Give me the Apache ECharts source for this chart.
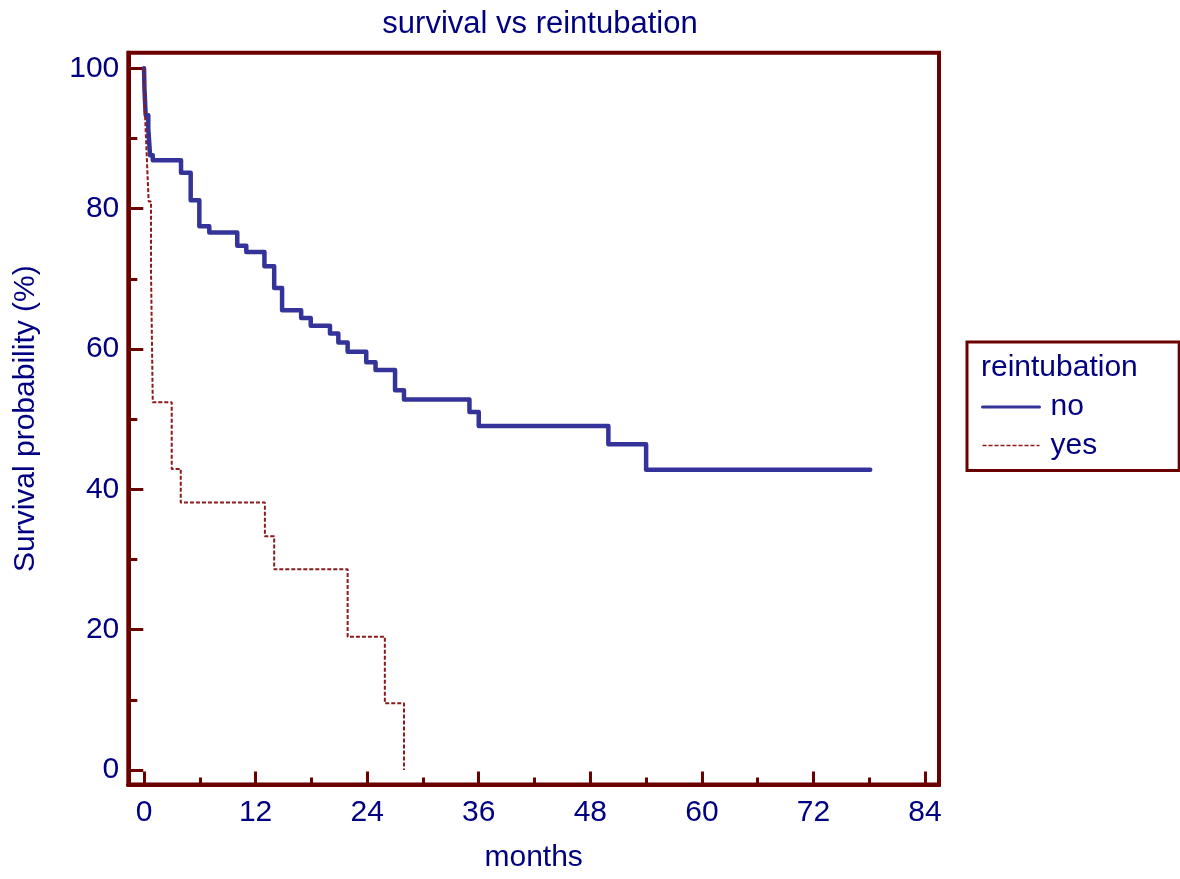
<!DOCTYPE html>
<html>
<head>
<meta charset="utf-8">
<script src="https://cdn.jsdelivr.net/npm/echarts@6/dist/echarts.min.js"></script>
<style>html,body{margin:0;padding:0;background:#fff;}#c{width:1180px;height:879px;}</style>
</head>
<body>
<div id="c"></div>
<script>
// Kaplan-Meier steps: [months, survival %]
const noTimes  = [0, 0.05, 0.18, 0.46, 0.65, 0.94, 3.98, 5.02, 5.95, 7.02, 10.03, 11.0, 12.95, 14.0, 14.85, 16.9, 17.93, 20.0, 20.9, 21.9, 23.9, 24.9, 27.0, 27.96, 35.0, 36.0, 49.94, 54.0, 78.1];
const noSurv   = [100, 97.0, 93.3, 91.4, 87.6, 86.9, 85.1, 81.2, 77.5, 76.6, 74.7, 73.8, 71.8, 68.7, 65.5, 64.4, 63.3, 62.2, 60.9, 59.6, 58.1, 57.0, 54.1, 52.8, 51.0, 49.0, 46.4, 42.8, 42.8];
const yesTimes = [0, 0.05, 0.2, 0.35, 0.5, 0.75, 0.94, 2.98, 3.95, 13.0, 14.0, 21.9, 25.9, 27.96];
const yesSurv  = [100, 95.2, 90.5, 85.7, 81.0, 71.4, 52.4, 42.9, 38.1, 33.3, 28.6, 19.0, 9.5, 0];
const xMajorTicks = [0, 12, 24, 36, 48, 60, 72, 84];
const xMinorTicks = [6, 18, 30, 42, 54, 66, 78];
const yMajorTicks = [0, 20, 40, 60, 80, 100];
const yMinorTicks = [10, 30, 50, 70, 90];
const seriesNames = ['no', 'yes'];

const FONT = '"Liberation Sans", Arial, sans-serif';
const NAVY = '#000080';
const FRAME = '#6B0000';
const BLUE = '#333399';
const RED = '#8B1A1A';

const chart = echarts.init(document.getElementById('c'), null, {renderer: 'canvas'});
const xr = {min: -1.69, max: 85.5};
const yr = {min: -2.07, max: 102.2};

function xAxisDef(ticks, len, labels, withName) {
  return {
    type: 'value', position: 'bottom', min: xr.min, max: xr.max,
    name: withName ? 'months' : '', nameLocation: 'middle', nameGap: 58,
    nameTextStyle: {color: NAVY, fontSize: 30, fontFamily: FONT},
    axisLine: {show: true, onZero: false, lineStyle: {color: FRAME, width: 4}},
    axisTick: {show: true, inside: true, length: len, customValues: ticks, lineStyle: {color: FRAME, width: 3}},
    axisLabel: labels ? {show: true, customValues: ticks, margin: 13, color: NAVY, fontSize: 30, fontFamily: FONT} : {show: false},
    splitLine: {show: false}
  };
}
function yAxisDef(ticks, len, labels, withName) {
  return {
    type: 'value', position: 'left', min: yr.min, max: yr.max,
    name: withName ? 'Survival probability (%)' : '', nameLocation: 'middle', nameGap: 88,
    nameTextStyle: {color: NAVY, fontSize: 30, fontFamily: FONT},
    axisLine: {show: true, onZero: false, lineStyle: {color: FRAME, width: 4}},
    axisTick: {show: true, inside: true, length: len, customValues: ticks, lineStyle: {color: FRAME, width: 3}},
    axisLabel: labels ? {show: true, customValues: ticks, margin: 9, color: NAVY, fontSize: 30, fontFamily: FONT} : {show: false},
    splitLine: {show: false}
  };
}

chart.setOption({
  animation: false,
  backgroundColor: '#fff',
  title: {
    text: 'survival vs reintubation', left: 535, top: 4, textAlign: 'center',
    textStyle: {color: NAVY, fontSize: 31, fontWeight: 'normal', fontFamily: FONT}
  },
  grid: {
    left: 128.3, right: 241, top: 52.8, bottom: 94.5,
    show: true, borderColor: FRAME, borderWidth: 4, backgroundColor: 'transparent'
  },
  xAxis: [xAxisDef(xMajorTicks, 13, true, true), xAxisDef(xMinorTicks, 7, false, false)],
  yAxis: [yAxisDef(yMajorTicks, 15, true, true), yAxisDef(yMinorTicks, 9, false, false)],
  legend: {
    orient: 'vertical', left: 967, top: 342,
    padding: [50, 82, 10, 14], itemGap: 8.5,
    itemWidth: 57, itemHeight: 14,
    borderColor: FRAME, borderWidth: 3, backgroundColor: '#fff',
    textStyle: {color: NAVY, fontSize: 30, fontFamily: FONT, lineHeight: 30, padding: [0, 0, 0, 6]},
    data: [
      {name: seriesNames[0], lineStyle: {width: 3}, itemStyle: {opacity: 0}},
      {name: seriesNames[1], lineStyle: {width: 1.6}, itemStyle: {opacity: 0}}
    ]
  },
  graphic: [{
    type: 'text', left: 981, top: 353, z: 100,
    style: {text: 'reintubation', fill: NAVY, font: '30px ' + FONT}
  }],
  series: [
    {
      name: seriesNames[0], type: 'line', step: 'end', xAxisIndex: 0, yAxisIndex: 0,
      symbol: 'none', showSymbol: false,
      data: noTimes.map((t, i) => [t, noSurv[i]]),
      lineStyle: {color: BLUE, width: 4.5, cap: 'round', join: 'round'},
      itemStyle: {color: BLUE}
    },
    {
      name: seriesNames[1], type: 'line', step: 'end', xAxisIndex: 0, yAxisIndex: 0,
      symbol: 'none', showSymbol: false,
      data: yesTimes.map((t, i) => [t, yesSurv[i]]),
      lineStyle: {color: RED, width: 2, type: [4, 2]},
      itemStyle: {color: RED}
    }
  ]
});
</script>
</body>
</html>
